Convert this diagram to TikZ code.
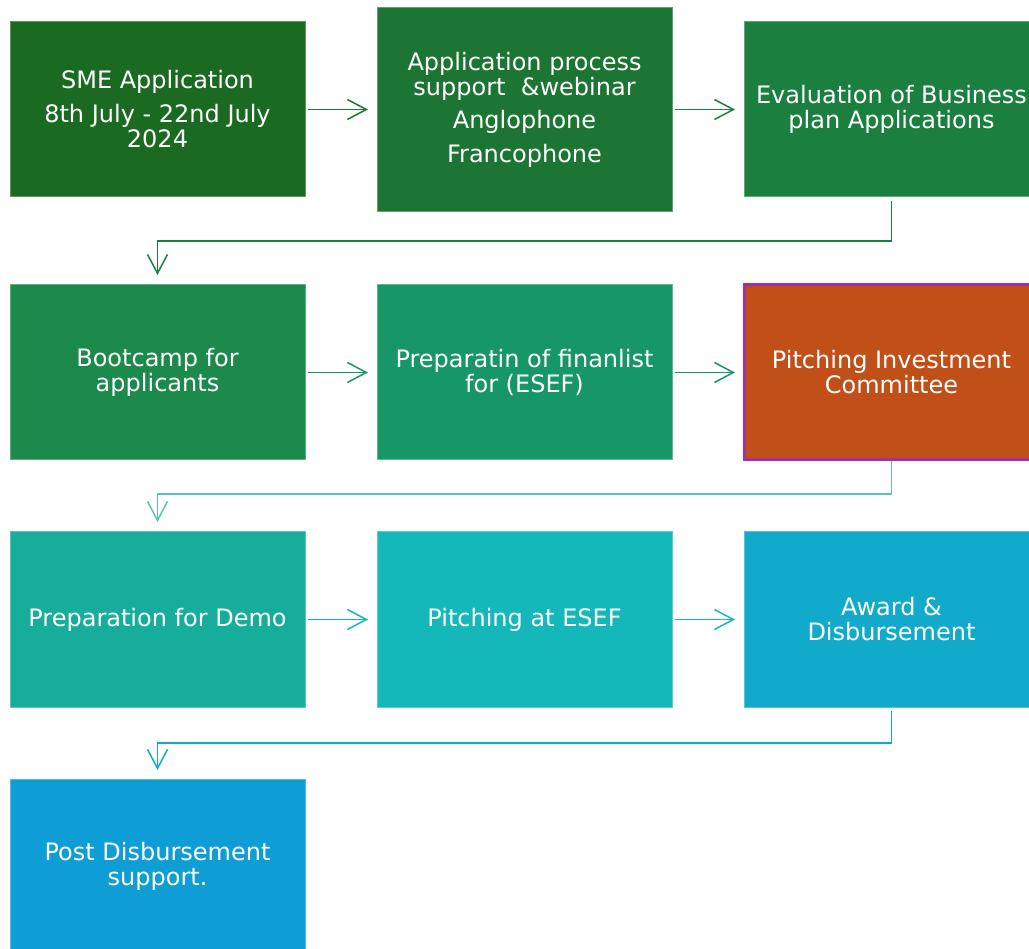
\documentclass[tikz,border=0pt]{standalone}
\usepackage{fontspec}
\setmainfont{DejaVu Sans}
\usepackage{xcolor}
\usetikzlibrary{arrows.meta,positioning}

\definecolor{smegreen}{HTML}{1B6A21}
\definecolor{supgreen}{HTML}{1C7533}
\definecolor{evalgreen}{HTML}{1B803F}
\definecolor{bootgreen}{HTML}{1C8A4B}
\definecolor{finteal}{HTML}{179766}
\definecolor{pitchorange}{HTML}{C05017}
\definecolor{pitchborder}{HTML}{A3309C}
\definecolor{demoteal}{HTML}{16AE9A}
\definecolor{esefcyan}{HTML}{14B8BA}
\definecolor{awardblue}{HTML}{11AACB}
\definecolor{postblue}{HTML}{0F9DD5}
\definecolor{lightteal}{HTML}{5CC4AE}

\begin{document}
\begin{tikzpicture}[
        x=1pt, y=-1pt,
        node distance=72pt,
        every node/.style={rectangle, minimum width=295pt, minimum height=175pt, inner sep=0pt, outer sep=0pt,
            text=white, align=center, font=\fontsize{24}{25}\selectfont},
        box/.style={fill=#1, draw=#1!70!white, line width=1pt},
        link/.style={line width=1.5pt, -{Straight Barb[length=19pt, width=20pt]}}
    ]

    \useasboundingbox (0,0) rectangle (1029,949);

    % Nodes
    \node[box=smegreen] (sme) at (157.5,109.5) {SME Application\\[9pt]8th July - 22nd July\\2024};
    \node[box=supgreen, minimum height=204pt, right=of sme] (support) {Application process\\support~ \&webinar\\[8pt]Anglophone\\[9pt]Francophone};
    \node[box=evalgreen, right=of support] (eval) {Evaluation of Business\\plan Applications};

    \node[box=bootgreen, below=88pt of sme] (boot) {Bootcamp for\\applicants};
    \node[box=finteal, right=of boot] (finalist) {Preparatin of finanlist\\for (ESEF)};
    \node[fill=pitchorange, draw=pitchborder, line width=3pt, right=of finalist] (pitch) {Pitching Investment\\Committee};

    \node[box=demoteal, below=of boot] (demo) {Preparation for Demo};
    \node[box=esefcyan, right=of demo] (esef) {Pitching at ESEF};
    \node[box=awardblue, right=of esef] (award) {Award \&\\Disbursement};

    \node[box=postblue, below=of demo] (post) {Post Disbursement\\support.};

    % Edges
    \draw[link, draw=supgreen, shorten <=3pt, shorten >=9pt] (sme) -- (support);
    \draw[link, draw=evalgreen, shorten <=3pt, shorten >=9pt] (support) -- (eval);
    \draw[link, draw=evalgreen, shorten <=4pt, shorten >=10pt] (eval.south) -- ++(0,44) -| (boot.north);

    \draw[link, draw=finteal, shorten <=3pt, shorten >=9pt] (boot) -- (finalist);
    \draw[link, draw=finteal, shorten <=3pt, shorten >=9pt] (finalist) -- (pitch);
    \draw[link, draw=lightteal, shorten <=1pt, shorten >=10pt] (pitch.south) -- ++(0,34) -| (demo.north);

    \draw[link, draw=esefcyan, shorten <=3pt, shorten >=9pt] (demo) -- (esef);
    \draw[link, draw=esefcyan, shorten <=3pt, shorten >=9pt] (esef) -- (award);
    \draw[link, draw=awardblue, shorten <=4pt, shorten >=9pt] (award.south) -- ++(0,36) -| (post.north);

\end{tikzpicture}
\end{document}
